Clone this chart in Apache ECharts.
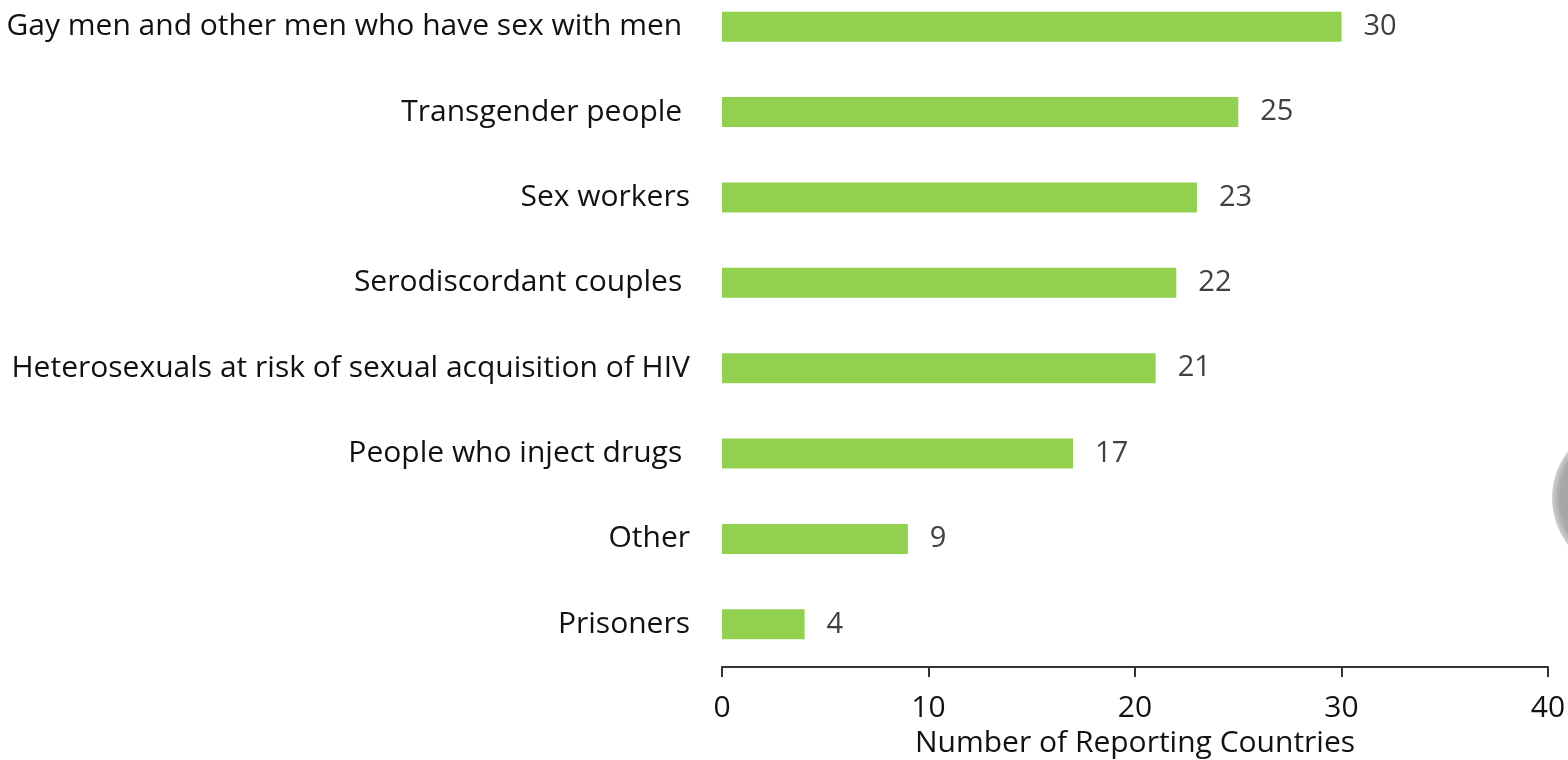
<!DOCTYPE html>
<html>
<head>
<meta charset="utf-8">
<title>Reporting countries</title>
<script src="https://cdn.jsdelivr.net/npm/echarts@6/dist/echarts.min.js"></script>
<style>
  html, body { margin: 0; padding: 0; background: #fff; }
  #chart { width: 1568px; height: 760px; }
</style>
</head>
<body>
<div id="chart"></div>
<script>
// groups, top to bottom as in the picture
const categories = [
  "Gay men and other men who have sex with men ",
  "Transgender people ",
  "Sex workers",
  "Serodiscordant couples ",
  "Heterosexuals at risk of sexual acquisition of HIV",
  "People who inject drugs ",
  "Other",
  "Prisoners"
];
const counts = [30, 25, 23, 22, 21, 17, 9, 4];
const axisTicks = [0, 10, 20, 30, 40];

const font = "'Open Sans', 'Noto Sans', sans-serif";

const chart = echarts.init(document.getElementById("chart"));
chart.setOption({
  animation: false,
  grid: {
    left: 722,
    right: 20,
    // first band starts above the top edge, as in the source
    top: -16,
    bottom: 93,
    containLabel: false,
    outerBoundsMode: "none"
  },
  xAxis: {
    type: "value",
    min: axisTicks[0],
    max: axisTicks[axisTicks.length - 1],
    interval: 10,
    name: "Number of Reporting Countries",
    nameLocation: "middle",
    nameGap: 61,
    nameTextStyle: { fontFamily: font, fontSize: 30, color: "#111" },
    axisLine: { show: true, lineStyle: { color: "#333", width: 2 } },
    axisTick: { show: true, length: 10, lineStyle: { color: "#333", width: 2 } },
    axisLabel: { fontFamily: font, fontSize: 30, color: "#111", margin: 26 },
    splitLine: { show: false }
  },
  yAxis: {
    type: "category",
    inverse: true,
    data: categories,
    axisLine: { show: false },
    axisTick: { show: false },
    axisLabel: { fontFamily: font, fontSize: 30, color: "#111", margin: 32 }
  },
  series: [
    {
      type: "bar",
      data: counts,
      barWidth: 30,
      itemStyle: { color: "#92d050" },
      label: {
        show: true,
        position: "right",
        distance: 22,
        fontFamily: font,
        fontSize: 29,
        color: "#404040"
      }
    }
  ],
  graphic: [
    {
      // grey disc peeking in at the right edge
      type: "circle",
      shape: { cx: 1628, cy: 498, r: 76 },
      style: {
        fill: new echarts.graphic.RadialGradient(0.5, 0.5, 0.5, [
          { offset: 0, color: "#8f8f8f" },
          { offset: 0.9, color: "#a8a8a8" },
          { offset: 1, color: "#cfcfcf" }
        ])
      },
      silent: true
    }
  ]
});
</script>
</body>
</html>
